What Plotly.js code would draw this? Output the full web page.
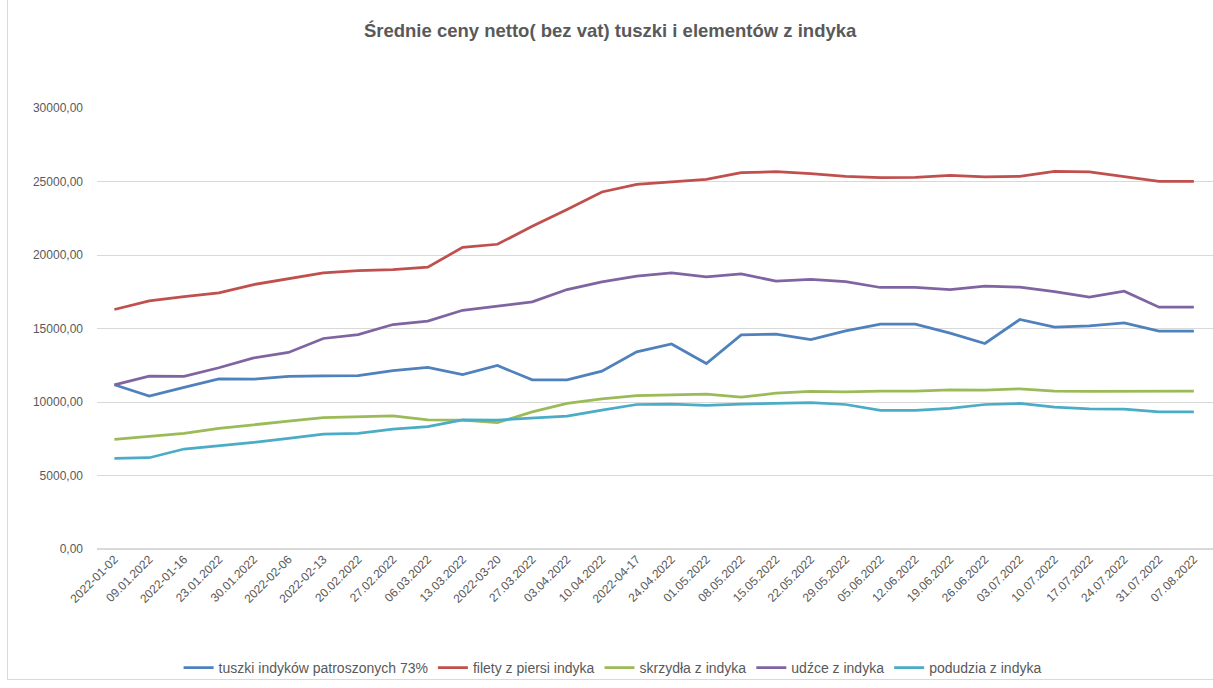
<!DOCTYPE html>
<html>
<head>
<meta charset="utf-8">
<script src="https://cdn.plot.ly/plotly-3.0.1.min.js"></script>
<style>
  html, body { margin: 0; padding: 0; background: #ffffff; }
  #wrap { position: relative; width: 1213px; height: 688px; overflow: hidden; }
  #chart { position: absolute; left: 0; top: 0; width: 1213px; height: 688px; }
  #frame { position: absolute; left: 7px; top: -2px; width: 1220px; height: 682px; border: 1px solid #D9D9D9; pointer-events: none; box-sizing: border-box; }
</style>
</head>
<body>
<div id="wrap">
  <div id="chart"></div>
  <div id="frame"></div>
</div>
<script>
const categories = [
  "2022-01-02", "09.01.2022", "2022-01-16", "23.01.2022", "30.01.2022", "2022-02-06",
  "2022-02-13", "20.02.2022", "27.02.2022", "06.03.2022", "13.03.2022", "2022-03-20",
  "27.03.2022", "03.04.2022", "10.04.2022", "2022-04-17", "24.04.2022", "01.05.2022",
  "08.05.2022", "15.05.2022", "22.05.2022", "29.05.2022", "05.06.2022", "12.06.2022",
  "19.06.2022", "26.06.2022", "03.07.2022", "10.07.2022", "17.07.2022", "24.07.2022",
  "31.07.2022", "07.08.2022"
];

const tuszki = [11170, 10400, 10990, 11570, 11550, 11740, 11780, 11800, 12140, 12350, 11870, 12480,
  11510, 11510, 12100, 13410, 13950, 12620, 14570, 14610, 14250, 14840, 15290, 15290,
  14680, 13980, 15610, 15090, 15180, 15380, 14820, 14820];

const filety = [16290, 16880, 17170, 17420, 17990, 18400, 18780, 18940, 19010, 19170, 20520, 20730,
  21950, 23090, 24290, 24810, 24970, 25150, 25600, 25670, 25530, 25350, 25260, 25280,
  25420, 25310, 25350, 25690, 25650, 25330, 25010, 25010];

const skrzydla = [7450, 7640, 7860, 8200, 8470, 8700, 8930, 9020, 9060, 8790, 8760, 8590,
  9330, 9900, 10220, 10440, 10470, 10540, 10330, 10600, 10720, 10690, 10740, 10740,
  10830, 10810, 10900, 10740, 10720, 10740, 10740, 10740];

const udzce = [11170, 11760, 11740, 12330, 13000, 13370, 14320, 14590, 15270, 15500, 16240, 16540,
  16810, 17650, 18170, 18560, 18780, 18510, 18710, 18220, 18350, 18190, 17790, 17790,
  17650, 17880, 17810, 17510, 17130, 17540, 16450, 16450];

const podudzia = [6160, 6210, 6800, 7020, 7250, 7520, 7820, 7860, 8160, 8320, 8780, 8770,
  8880, 9040, 9450, 9830, 9860, 9770, 9860, 9880, 9950, 9830, 9430, 9430,
  9560, 9830, 9900, 9650, 9540, 9520, 9330, 9330];

const seriesNames = [
  "tuszki indyków patroszonych 73%",
  "filety z piersi indyka",
  "skrzydła z indyka",
  "udźce z indyka",
  "podudzia z indyka"
];
const seriesValues = [tuszki, filety, skrzydla, udzce, podudzia];
const seriesColors = ["#4F81BD", "#C0504D", "#9BBB59", "#8064A2", "#4BACC6"];

const yTicks = [0, 5000, 10000, 15000, 20000, 25000, 30000];

const traces = seriesValues.map((vals, k) => ({
  type: "scatter",
  mode: "lines",
  name: seriesNames[k],
  x: categories.map((_, i) => i),
  y: vals,
  line: { color: seriesColors[k], width: 2.75 },
  hoverinfo: "x+y+name"
}));

const layout = {
  width: 1213,
  height: 688,
  paper_bgcolor: "rgba(0,0,0,0)",
  plot_bgcolor: "rgba(0,0,0,0)",
  separators: ", ",
  font: { family: "Liberation Sans, Arial, sans-serif", size: 12, color: "#595959" },
  margin: { l: 97, r: 0, t: 108, b: 139, pad: 0 },
  title: {
    text: "<b>Średnie ceny netto( bez vat) tuszki i elementów z indyka</b>",
    font: { family: "Liberation Sans, Arial, sans-serif", size: 18.5, color: "#595959" },
    x: 0.503,
    xanchor: "center",
    y: 0.955,
    yanchor: "middle"
  },
  xaxis: {
    type: "linear",
    range: [-0.5, 31.55],
    tickmode: "array",
    tickvals: categories.map((_, i) => i),
    ticktext: categories,
    tickangle: -45,
    showgrid: false,
    zeroline: false,
    showline: false,
    ticks: "",
    tickfont: { family: "Liberation Sans, Arial, sans-serif", size: 12, color: "#595959" },
    fixedrange: true
  },
  yaxis: {
    range: [0, 30000],
    tickmode: "array",
    tickvals: yTicks,
    tickformat: ".2f",
    showgrid: true,
    gridcolor: "#D9D9D9",
    gridwidth: 1,
    zeroline: true,
    zerolinecolor: "#D9D9D9",
    zerolinewidth: 1.5,
    showline: false,
    ticks: "",
    ticklabelstandoff: 13,
    tickfont: { family: "Liberation Sans, Arial, sans-serif", size: 12, color: "#595959" },
    fixedrange: true
  },
  showlegend: true,
  legend: {
    orientation: "h",
    x: 0.462,
    xanchor: "center",
    y: -0.27,
    yanchor: "middle",
    font: { family: "Liberation Sans, Arial, sans-serif", size: 14, color: "#595959" },
    bgcolor: "rgba(0,0,0,0)",
    itemwidth: 30
  }
};

Plotly.newPlot("chart", traces, layout, { displayModeBar: false, staticPlot: true });
</script>
</body>
</html>
